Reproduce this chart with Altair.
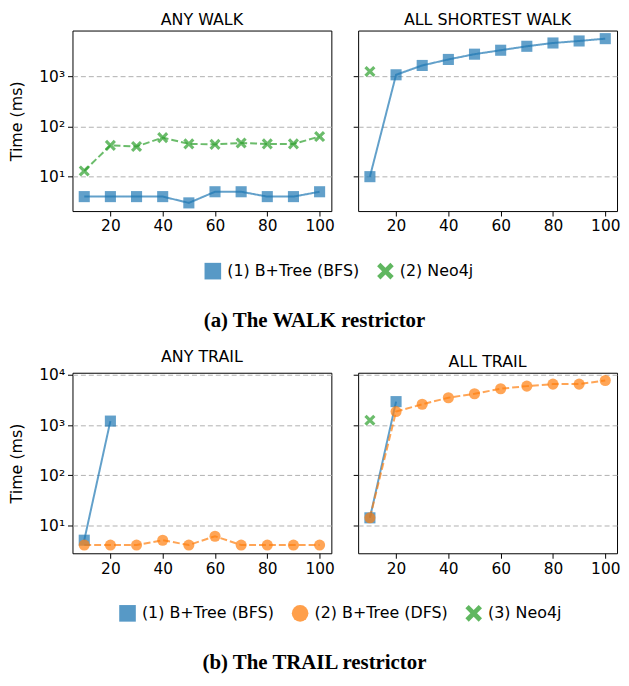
import altair as alt
import pandas as pd

# ---------------- data ----------------
x_vals = [10, 20, 30, 40, 50, 60, 70, 80, 90, 100]

# (a) WALK restrictor
any_walk_bfs = [4, 4, 4, 4, 3, 5, 5, 4, 4, 5]
any_walk_neo4j = [13, 42, 40, 60, 45, 44, 47, 45, 45, 63]
asw_bfs = [10, 1075, 1650, 2175, 2770, 3320, 3980, 4630, 5080, 5650]
asw_neo4j_x = [10]
asw_neo4j = [1250]

# (b) TRAIL restrictor
any_trail_bfs_x = [10, 20]
any_trail_bfs = [5, 1200]
any_trail_dfs = [4, 4, 4, 5, 4, 6, 4, 4, 4, 4]
all_trail_bfs_x = [10, 20]
all_trail_bfs = [14, 2940]
all_trail_dfs = [14, 1860, 2600, 3520, 4230, 5310, 6000, 6580, 6580, 7780]
all_trail_neo4j_x = [10]
all_trail_neo4j = [1250]

walk_series = ["(1) B+Tree (BFS)", "(2) Neo4j"]
trail_series = ["(1) B+Tree (BFS)", "(2) B+Tree (DFS)", "(3) Neo4j"]
x_ticks = [20, 40, 60, 80, 100]

BLUE, ORANGE, GREEN = "#1f77b4", "#ff7f0e", "#2ca02c"
X_PATH = ("M-0.6,-1L0,-0.4L0.6,-1L1,-0.6L0.4,0L1,0.6L0.6,1L0,0.4"
          "L-0.6,1L-1,0.6L-0.4,0L-1,-0.6Z")


def frame(xs, ys, name):
    return pd.DataFrame({"x": xs, "y": ys, "series": name})


walk_any = pd.concat([frame(x_vals, any_walk_bfs, walk_series[0]),
                      frame(x_vals, any_walk_neo4j, walk_series[1])])
walk_all = pd.concat([frame(x_vals, asw_bfs, walk_series[0]),
                      frame(asw_neo4j_x, asw_neo4j, walk_series[1])])
trail_any = pd.concat([frame(any_trail_bfs_x, any_trail_bfs, trail_series[0]),
                       frame(x_vals, any_trail_dfs, trail_series[1])])
trail_all = pd.concat([frame(all_trail_bfs_x, all_trail_bfs, trail_series[0]),
                       frame(x_vals, all_trail_dfs, trail_series[1]),
                       frame(all_trail_neo4j_x, all_trail_neo4j, trail_series[2])])

SUP = ("datum.value == 10 ? '10\u00b9' : datum.value == 100 ? '10\u00b2' : "
       "datum.value == 1000 ? '10\u00b3' : '10\u2074'")

W, H = 261, 182


def panel(df, title, ydom, yticks, dom, colors, shapes, dashes, first, legx):
    x = alt.X("x:Q",
              scale=alt.Scale(domain=[5.5, 104.5], nice=False, zero=False),
              axis=alt.Axis(values=x_ticks, title=None, grid=False))
    y = alt.Y("y:Q",
              scale=alt.Scale(type="log", domain=ydom, nice=False),
              axis=alt.Axis(values=yticks, labelExpr=SUP,
                            labels=first, title="Time (ms)" if first else None,
                            grid=True))
    # line scales use the (alphabetically sorted) data domain, so their
    # hidden legends are not merged with the visible colour/shape legend
    line = alt.Chart(df).mark_line(strokeWidth=2, opacity=0.7).encode(
        x=x, y=y,
        stroke=alt.Stroke("series:N", scale=alt.Scale(range=colors), legend=None),
        strokeDash=alt.StrokeDash("series:N", scale=alt.Scale(range=dashes),
                                  legend=None),
    )
    leg = alt.Legend(title=None, orient="none", direction="horizontal",
                     legendX=legx, legendY=233)
    pts = alt.Chart(df).mark_point(filled=True, size=125, opacity=0.7).encode(
        x=x, y=y,
        color=alt.Color("series:N", scale=alt.Scale(domain=dom, range=colors),
                        legend=leg),
        shape=alt.Shape("series:N", scale=alt.Scale(domain=dom, range=shapes),
                        legend=leg),
    )
    return alt.layer(line, pts).properties(
        width=W, height=H,
        title=alt.TitleParams(title, font="DejaVu Sans", fontSize=16,
                              fontWeight="normal", offset=3, color="black"))


def row(p1, p2, caption):
    return alt.hconcat(p1, p2, spacing=17).resolve_scale(
        color="shared", shape="shared", stroke="shared", strokeDash="shared"
    ).properties(
        title=alt.TitleParams(caption, orient="bottom", font="Liberation Serif",
                              fontSize=21, fontWeight="bold", offset=28,
                              color="black", anchor="middle"))


walk_dashes = [[1, 0], [7, 3]]
trail_dashes = [[1, 0], [7, 3], [7, 3]]
walk_shapes = ["square", X_PATH]
trail_shapes = ["square", "circle", X_PATH]

row_a = row(
    panel(walk_any, "ANY WALK", [2.06, 8200], [10, 100, 1000], walk_series,
          [BLUE, GREEN], walk_shapes, walk_dashes, True, 132),
    panel(walk_all, "ALL SHORTEST WALK", [2.06, 8200], [10, 100, 1000],
          walk_series, [BLUE, GREEN], walk_shapes, walk_dashes, False, 132),
    "(a) The WALK restrictor")

row_b = row(
    panel(trail_any, "ANY TRAIL", [2.74, 11100], [10, 100, 1000, 10000],
          trail_series, [BLUE, ORANGE, GREEN], trail_shapes, trail_dashes,
          True, 46),
    panel(trail_all, "ALL TRAIL", [2.74, 11100], [10, 100, 1000, 10000],
          trail_series, [BLUE, ORANGE, GREEN], trail_shapes, trail_dashes,
          False, 46),
    "(b) The TRAIL restrictor")

chart = alt.vconcat(row_a, row_b, spacing=17).resolve_scale(
    color="independent", shape="independent", stroke="independent",
    strokeDash="independent"
).configure(
    font="DejaVu Sans", padding=0,
).configure_view(
    stroke="black", strokeWidth=1
).configure_axis(
    domain=False, tickColor="black", tickSize=5, tickWidth=1,
    labelFont="DejaVu Sans", labelFontSize=15.5, labelColor="black",
    labelPadding=3, titleFont="DejaVu Sans", titleFontSize=16,
    titleFontWeight="normal", titleColor="black", titlePadding=14,
    gridColor="#b0b0b0", gridDash=[5, 3], gridWidth=1,
).configure_legend(
    labelFont="DejaVu Sans", labelFontSize=16, labelColor="black",
    symbolSize=280, symbolStrokeColor="#707070", symbolStrokeWidth=1.5,
    labelOffset=5, columnPadding=14, padding=0, symbolOpacity=0.75,
)

chart.save("out.html", embed_options={"renderer": "svg", "actions": False})
